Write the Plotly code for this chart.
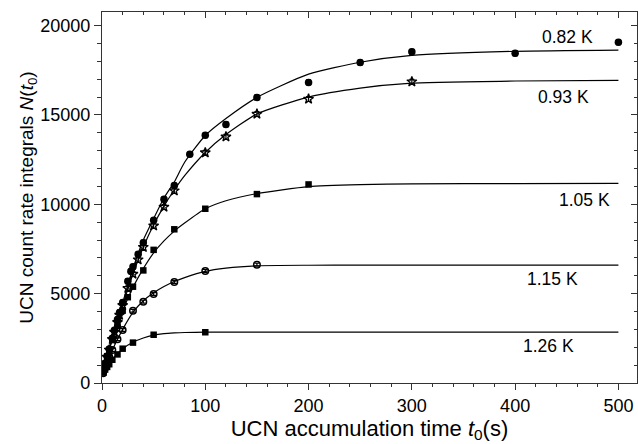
import plotly.graph_objects as go

# ---------------- data ----------------
# measured points (t0 in s, N)
t_082 = [1, 3, 5, 7, 10, 12, 15, 17, 20, 25, 28, 30, 35, 40, 50, 60, 70, 85, 100, 120, 150, 200, 250, 300, 400, 500]
n_082 = [700, 1100, 1500, 1900, 2500, 2950, 3550, 3950, 4500, 5700, 6250, 6500, 7200, 7850, 9100, 10280, 11050,
         12800, 13870, 14470, 15980, 16820, 17930, 18530, 18450, 19070]

t_093 = [1, 3, 5, 7, 10, 12, 15, 17, 20, 25, 30, 35, 40, 50, 60, 70, 100, 120, 150, 200, 300]
n_093 = [650, 1050, 1450, 1850, 2450, 2850, 3400, 3800, 4350, 5300, 6100, 6900, 7600, 8800, 9850, 10760,
         12890, 13780, 15050, 15890, 16860]

t_105 = [1, 3, 5, 7, 10, 15, 20, 25, 30, 40, 50, 70, 100, 150, 200]
n_105 = [650, 1000, 1500, 1800, 2400, 3200, 4050, 4800, 5390, 6300, 7450, 8600, 9750, 10570, 11110]

t_115 = [1, 3, 5, 7, 10, 15, 20, 30, 40, 50, 70, 100, 150]
n_115 = [550, 850, 1150, 1450, 1850, 2450, 2965, 4045, 4550, 4980, 5650, 6270, 6620]

t_126 = [1, 3, 5, 7, 10, 15, 20, 30, 50, 100]
n_126 = [580, 750, 900, 1050, 1300, 1600, 1920, 2260, 2700, 2840]

# fit curves
t_fit = [0, 5, 10, 20, 30, 40, 50, 60, 70, 80, 100, 120, 150, 200, 250, 300, 400, 500]
fit_082 = [500, 1550, 2550, 4500, 6400, 8000, 9200, 10350, 11250, 12350, 13850, 14800, 15980, 17280, 17950, 18330, 18560, 18630]
fit_093 = [500, 1450, 2450, 4350, 6100, 7600, 8850, 9900, 10800, 11600, 12900, 13900, 15050, 16000, 16500, 16780, 16900, 16930]
fit_105 = [500, 1520, 2450, 4050, 5350, 6400, 7280, 7950, 8500, 8950, 9750, 10200, 10600, 10990, 11100, 11140, 11160, 11170]
fit_115 = [450, 1150, 1850, 3000, 3950, 4600, 5050, 5400, 5680, 5900, 6250, 6430, 6560, 6590, 6595, 6598, 6600, 6600]
fit_126 = [500, 900, 1300, 1920, 2280, 2520, 2680, 2760, 2800, 2825, 2845, 2850, 2850, 2850, 2850, 2850, 2850, 2850]

labels = ["0.82 K", "0.93 K", "1.05 K", "1.15 K", "1.26 K"]
label_t = [451, 447, 467, 436, 432]
label_n = [19360, 16000, 10240, 5820, 2070]

err_082 = 140
err_093 = 130
err_105 = 105
err_115 = 80
err_126 = 53

x_ticks = [0, 100, 200, 300, 400, 500]
y_ticks = [0, 5000, 10000, 15000, 20000]

# ---------------- figure ----------------
FONT = "Liberation Sans, Arial, sans-serif"
fig = go.Figure()

fits = [fit_082, fit_093, fit_105, fit_115, fit_126]
for f in fits:
    fig.add_trace(go.Scatter(x=t_fit, y=f, mode="lines", line=dict(color="black", width=1.2, shape="spline", smoothing=0.6),
                             hoverinfo="skip", showlegend=False))

series = [
    (t_082, n_082, err_082, dict(symbol="circle", size=7.5, color="black")),
    (t_093, n_093, err_093, dict(symbol="star-open", size=7.5, color="black", line=dict(width=1.3, color="black"))),
    (t_105, n_105, err_105, dict(symbol="square", size=6.5, color="black")),
    (t_115, n_115, err_115, dict(symbol="circle-open", size=6.5, color="black", line=dict(width=1.5, color="black"))),
    (t_126, n_126, err_126, dict(symbol="square", size=6.5, color="black")),
]
for tx, ny, er, mk in series:
    fig.add_trace(go.Scatter(x=tx, y=ny, mode="markers", marker=mk, showlegend=False,
                             error_y=dict(type="constant", value=er, color="black", thickness=1.2, width=2.5)))

# helper trace for mirrored (inside) ticks on top/right
fig.add_trace(go.Scatter(x=[0], y=[0], xaxis="x2", yaxis="y2", mode="markers",
                         marker=dict(opacity=0), hoverinfo="skip", showlegend=False))

for lab, lt, ln in zip(labels, label_t, label_n):
    fig.add_annotation(x=lt, y=ln, text=lab, showarrow=False, font=dict(family=FONT, size=17.5, color="black"))

XR = [0, 518]
YR = [0, 20760]
AX = "#333"
fig.update_layout(
    width=638, height=444,
    margin=dict(l=102, r=1, t=12, b=61, autoexpand=False),
    plot_bgcolor="white", paper_bgcolor="white",
    font=dict(family=FONT, size=18, color="black"),
    xaxis=dict(range=XR, showgrid=False, zeroline=False, showline=True, linecolor=AX, linewidth=1.2,
               automargin=False, ticks="outside", ticklen=6, tickcolor=AX, tickvals=x_ticks,
               tickfont=dict(family=FONT, size=18),
               minor=dict(ticks="outside", ticklen=3, dtick=20, tick0=0, tickcolor=AX),
               title=dict(text="UCN accumulation time <i>t</i><sub>0</sub>(s)", standoff=0,
                          font=dict(family=FONT, size=22))),
    yaxis=dict(range=YR, showgrid=False, zeroline=False, showline=True, linecolor=AX, linewidth=1.2,
               automargin=False, ticks="outside", ticklen=7, tickcolor=AX, tickvals=y_ticks, tickformat="d",
               tickfont=dict(family=FONT, size=18),
               minor=dict(ticks="outside", ticklen=4, dtick=1000, tick0=0, tickcolor=AX),
               title=dict(text="UCN count rate integrals <i>N</i>(<i>t</i><sub>0</sub>)", standoff=0,
                          font=dict(family=FONT, size=19))),
    xaxis2=dict(range=XR, overlaying="x", side="top", matches="x", showgrid=False, zeroline=False,
                showline=True, linecolor=AX, linewidth=1.2, ticks="inside", ticklen=6, tickcolor=AX,
                tickvals=x_ticks, showticklabels=False, automargin=False,
                minor=dict(ticks="inside", ticklen=3, dtick=20, tick0=0, tickcolor=AX)),
    yaxis2=dict(range=YR, overlaying="y", side="right", matches="y", showgrid=False, zeroline=False,
                showline=True, linecolor=AX, linewidth=1.2, ticks="inside", ticklen=6, tickcolor=AX,
                tickvals=y_ticks, showticklabels=False, automargin=False,
                minor=dict(ticks="inside", ticklen=3, dtick=1000, tick0=0, tickcolor=AX)),
)

fig.write_html("out.html", config={"displayModeBar": False},
               post_script="document.body.style.margin='0';document.body.style.padding='0';")
